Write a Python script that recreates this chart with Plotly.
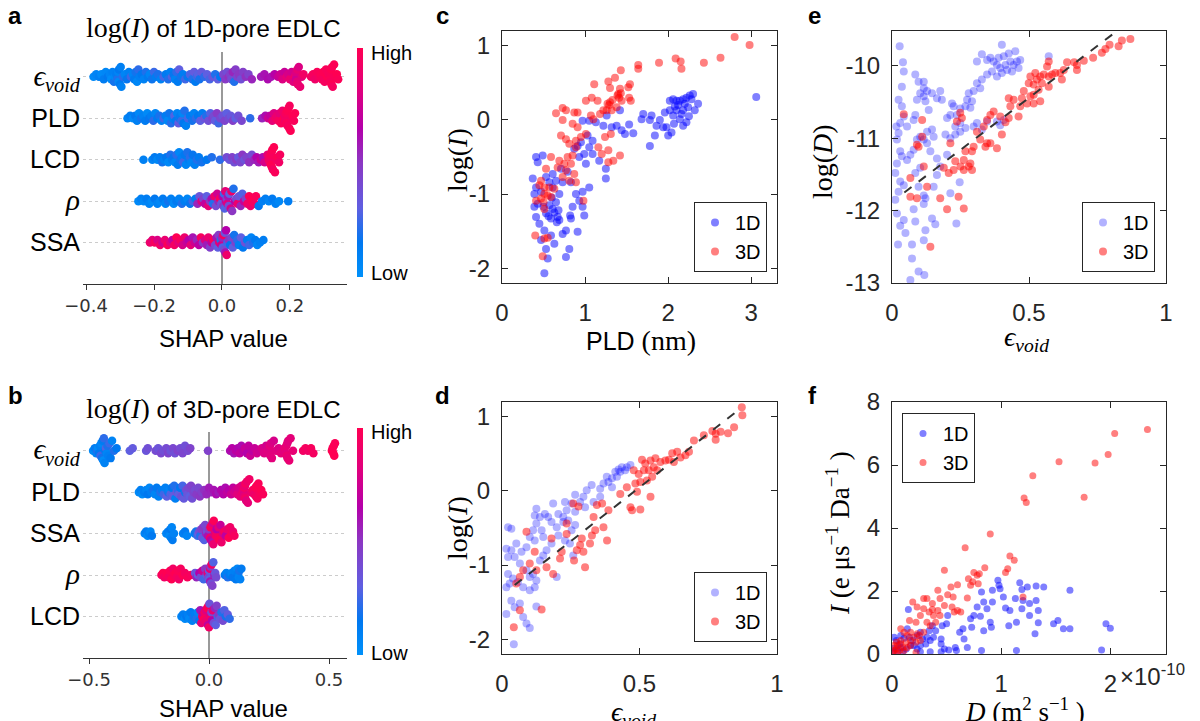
import numpy as np
import plotly.graph_objects as go

SANS = "Liberation Sans"
SERIF = "Liberation Serif"
W, H = 1200, 721

# ---------------- SHAP beeswarm data (panel a: 1D-pore) ----------------
A_EPS_SHAP = [-0.378,-0.370,-0.362,-0.355,-0.348,-0.342,-0.336,-0.330,-0.326,-0.322,-0.318,-0.315,-0.311,-0.308,-0.305,-0.304,-0.303,-0.300,-0.298,-0.296,-0.292,-0.286,-0.280,-0.274,-0.268,-0.262,-0.258,-0.254,-0.250,-0.246,-0.242,-0.236,-0.230,-0.224,-0.218,-0.212,-0.206,-0.200,-0.194,-0.188,-0.180,-0.172,-0.165,-0.158,-0.152,-0.147,-0.142,-0.138,-0.134,-0.130,-0.126,-0.121,-0.115,-0.108,-0.101,-0.094,-0.087,-0.082,-0.078,-0.074,-0.070,-0.066,-0.060,-0.052,-0.044,-0.036,-0.028,-0.020,-0.012,-0.005,0.004,0.010,0.015,0.020,0.024,0.028,0.032,0.036,0.040,0.045,0.050,0.056,0.062,0.070,0.078,0.088,0.115,0.125,0.135,0.145,0.155,0.165,0.172,0.178,0.184,0.190,0.195,0.200,0.205,0.210,0.214,0.217,0.218,0.219,0.221,0.222,0.223,0.226,0.230,0.235,0.240,0.262,0.268,0.274,0.280,0.285,0.290,0.294,0.298,0.302,0.306,0.310,0.314,0.318,0.318,0.320,0.322,0.322,0.324,0.326,0.330,0.334,0.338,0.342]
A_EPS_FEAT = [.05,.08,.10,.04,.12,.06,.15,.08,.03,.10,.18,.06,.12,.20,.07,.05,.15,.14,.10,.09,.22,.07,.16,.10,.25,.08,.13,.18,.06,.22,.11,.15,.09,.20,.13,.07,.17,.24,.12,.19,.09,.26,.14,.20,.11,.28,.16,.09,.22,.13,.30,.18,.12,.25,.16,.27,.20,.32,.14,.24,.29,.18,.33,.22,.30,.26,.35,.20,.31,.15,.42,.48,.38,.52,.45,.40,.55,.20,.47,.43,.50,.38,.46,.52,.44,.55,.58,.60,.62,.60,.66,.72,.75,.80,.72,.85,.78,.88,.76,.82,.90,.82,.74,.80,.84,.86,.88,.80,.88,.84,.92,.93,.95,.91,.97,.94,.98,.96,.99,.95,.97,1.0,.96,.98,.97,.96,1.0,.99,.98,.95,.99,.97,1.0,.98]

A_PLD_SHAP = [-0.278,-0.270,-0.262,-0.255,-0.250,-0.244,-0.238,-0.232,-0.226,-0.220,-0.214,-0.208,-0.202,-0.196,-0.190,-0.184,-0.178,-0.172,-0.166,-0.160,-0.155,-0.150,-0.145,-0.140,-0.136,-0.132,-0.128,-0.125,-0.122,-0.119,-0.116,-0.113,-0.110,-0.106,-0.100,-0.094,-0.088,-0.082,-0.076,-0.070,-0.064,-0.058,-0.052,-0.046,-0.040,-0.034,-0.028,-0.024,-0.020,-0.015,-0.010,-0.005,0.002,0.008,0.014,0.020,0.026,0.032,0.040,0.048,0.058,0.083,0.118,0.128,0.136,0.142,0.148,0.153,0.158,0.162,0.166,0.170,0.174,0.178,0.182,0.185,0.186,0.188,0.190,0.192,0.193,0.196,0.198,0.199,0.202,0.205,0.208,0.212,0.215]
A_PLD_FEAT = [.08,.12,.05,.15,.10,.06,.18,.09,.13,.04,.16,.11,.22,.07,.14,.19,.09,.25,.12,.06,.17,.21,.10,.28,.14,.08,.32,.18,.12,.24,.06,.15,.20,.10,.26,.14,.18,.09,.22,.15,.30,.12,.35,.20,.38,.28,.45,.40,.32,.48,.25,.42,.36,.44,.30,.40,.34,.46,.30,.38,.42,.22,.55,.62,.75,.70,.85,.80,.92,.88,.95,.84,.97,.90,1.0,.91,.93,.96,.98,.99,.95,1.0,.97,.96,.99,.94,1.0,.97,.99]

A_LCD_SHAP = [-0.231,-0.205,-0.198,-0.190,-0.183,-0.176,-0.170,-0.164,-0.158,-0.152,-0.147,-0.142,-0.138,-0.134,-0.130,-0.126,-0.122,-0.118,-0.114,-0.110,-0.106,-0.102,-0.098,-0.094,-0.090,-0.086,-0.080,-0.074,-0.068,-0.060,-0.045,-0.030,-0.006,0.014,0.022,0.030,0.036,0.042,0.048,0.054,0.060,0.066,0.072,0.080,0.088,0.095,0.102,0.108,0.114,0.120,0.126,0.134,0.138,0.139,0.141,0.143,0.144,0.146,0.147,0.148,0.150,0.153,0.156,0.160,0.164,0.168,0.171]
A_LCD_FEAT = [.10,.08,.14,.06,.12,.18,.09,.15,.05,.20,.11,.16,.08,.22,.13,.06,.18,.10,.25,.14,.08,.19,.12,.22,.07,.16,.10,.20,.13,.18,.15,.20,.22,.40,.35,.45,.38,.48,.33,.42,.50,.36,.44,.52,.40,.55,.65,.58,.72,.62,.78,.85,.95,.93,.92,.97,1.0,.96,.99,.98,.94,1.0,.97,.95,.99,.93,.96]

A_RHO_SHAP = [-0.246,-0.238,-0.230,-0.222,-0.214,-0.206,-0.198,-0.190,-0.182,-0.174,-0.166,-0.158,-0.150,-0.142,-0.134,-0.126,-0.118,-0.110,-0.102,-0.094,-0.086,-0.078,-0.072,-0.066,-0.060,-0.055,-0.050,-0.045,-0.040,-0.035,-0.030,-0.026,-0.022,-0.018,-0.014,-0.010,-0.006,-0.002,0.002,0.004,0.006,0.008,0.010,0.012,0.014,0.016,0.018,0.020,0.022,0.026,0.028,0.030,0.034,0.038,0.042,0.046,0.050,0.055,0.060,0.065,0.070,0.075,0.080,0.084,0.088,0.092,0.096,0.100,0.108,0.118,0.128,0.138,0.148,0.158,0.168,0.195]
A_RHO_FEAT = [.05,.10,.06,.12,.08,.04,.15,.09,.06,.13,.08,.18,.10,.05,.14,.09,.20,.12,.07,.16,.25,.12,.55,.35,.80,.45,.70,.30,.85,.50,.62,.20,.90,.40,.75,.55,.95,.35,.68,.50,.25,.28,.85,.72,.45,.82,.60,.38,.30,.78,.90,.50,.20,.65,.40,.88,.35,.55,.28,.72,.45,.92,.98,.90,.96,1.0,.94,.97,.15,.10,.12,.08,.14,.10,.06,.12]

A_SSA_SHAP = [-0.212,-0.205,-0.198,-0.190,-0.182,-0.175,-0.168,-0.160,-0.152,-0.146,-0.140,-0.134,-0.128,-0.122,-0.116,-0.110,-0.104,-0.098,-0.092,-0.086,-0.080,-0.074,-0.068,-0.062,-0.056,-0.050,-0.045,-0.040,-0.035,-0.030,-0.025,-0.020,-0.016,-0.012,-0.010,-0.008,-0.004,-0.002,0.000,0.002,0.004,0.006,0.008,0.010,0.012,0.014,0.016,0.020,0.024,0.028,0.032,0.036,0.040,0.045,0.050,0.056,0.062,0.068,0.074,0.080,0.086,0.092,0.098,0.104,0.112,0.122]
A_SSA_FEAT = [.90,.85,.95,.80,.92,.75,.88,.97,.82,.70,.93,1.0,.85,.96,.78,.90,.72,.65,.85,.60,.75,.55,.68,.95,.50,.80,.58,.88,.45,.70,.98,.40,.60,.30,.48,.85,.20,.75,.55,.28,.95,.40,.35,.60,.65,.90,.25,.50,.15,.42,.30,.18,.45,.22,.10,.30,.15,.38,.12,.25,.08,.20,.14,.06,.10,.12]

# ---------------- SHAP beeswarm data (panel b: 3D-pore) ----------------
B_EPS_SHAP = [-0.483,-0.476,-0.470,-0.466,-0.462,-0.458,-0.455,-0.452,-0.449,-0.446,-0.443,-0.440,-0.438,-0.435,-0.432,-0.429,-0.426,-0.423,-0.420,-0.415,-0.410,-0.404,-0.396,-0.385,-0.330,-0.318,-0.262,-0.255,-0.222,-0.212,-0.200,-0.190,-0.178,-0.170,-0.160,-0.150,-0.142,-0.130,-0.120,-0.110,-0.100,-0.088,-0.078,-0.004,0.088,0.096,0.104,0.112,0.120,0.128,0.135,0.142,0.150,0.158,0.165,0.172,0.180,0.190,0.200,0.210,0.220,0.230,0.238,0.245,0.250,0.252,0.254,0.256,0.258,0.262,0.270,0.280,0.290,0.300,0.310,0.316,0.320,0.322,0.324,0.326,0.327,0.330,0.334,0.340,0.350,0.392,0.402,0.412,0.425,0.435,0.512,0.515,0.518,0.520,0.522,0.525]
B_EPS_FEAT = [.05,.12,.08,.20,.04,.15,.10,.25,.06,.18,.12,.03,.22,.09,.16,.28,.07,.19,.11,.24,.14,.08,.20,.15,.30,.32,.35,.38,.40,.36,.42,.38,.40,.44,.36,.42,.38,.45,.40,.43,.38,.41,.44,.45,.62,.66,.60,.68,.64,.70,.62,.67,.72,.65,.70,.74,.68,.72,.76,.74,.78,.80,.76,.82,.79,.81,.84,.82,.80,.83,.78,.82,.80,.84,.82,.86,.83,.86,.88,.84,.85,.82,.87,.84,.86,.93,.95,.92,.96,.94,1.0,.98,1.0,.99,1.0,.98]

B_PLD_SHAP = [-0.292,-0.285,-0.278,-0.270,-0.262,-0.255,-0.248,-0.240,-0.232,-0.225,-0.218,-0.210,-0.202,-0.195,-0.188,-0.182,-0.176,-0.170,-0.165,-0.160,-0.155,-0.150,-0.145,-0.140,-0.135,-0.130,-0.125,-0.120,-0.115,-0.110,-0.105,-0.100,-0.095,-0.090,-0.085,-0.080,-0.075,-0.070,-0.064,-0.058,-0.052,-0.045,-0.038,-0.030,-0.020,-0.010,0.000,0.010,0.020,0.030,0.040,0.050,0.060,0.068,0.076,0.084,0.092,0.100,0.106,0.112,0.118,0.124,0.130,0.136,0.140,0.144,0.146,0.147,0.148,0.150,0.151,0.152,0.155,0.158,0.162,0.168,0.175,0.182,0.188,0.193,0.196,0.199,0.202,0.206,0.212,0.218,0.225]
B_PLD_FEAT = [.05,.10,.04,.12,.08,.15,.06,.11,.18,.07,.14,.09,.20,.12,.25,.10,.30,.18,.08,.28,.15,.32,.20,.10,.35,.22,.30,.15,.38,.26,.33,.18,.40,.35,.42,.30,.45,.38,.44,.40,.48,.42,.50,.46,.52,.55,.58,.56,.60,.62,.58,.64,.66,.62,.70,.66,.74,.70,.78,.75,.82,.78,.85,.80,.88,.84,.80,.92,.87,.86,.93,.95,.82,.90,.85,.92,.88,.95,.90,.98,.93,1.0,.95,.98,.96,1.0,.97]

B_SSA_SHAP = [-0.268,-0.262,-0.256,-0.250,-0.244,-0.238,-0.178,-0.170,-0.164,-0.160,-0.158,-0.155,-0.152,-0.146,-0.108,-0.100,-0.092,-0.060,-0.054,-0.048,-0.044,-0.040,-0.036,-0.032,-0.028,-0.024,-0.020,-0.016,-0.012,-0.008,-0.004,0.000,0.004,0.006,0.008,0.012,0.014,0.016,0.018,0.020,0.024,0.026,0.028,0.032,0.036,0.040,0.044,0.048,0.052,0.058,0.064,0.070,0.076,0.082,0.088,0.094,0.100,0.106]
B_SSA_FEAT = [.08,.12,.05,.10,.06,.14,.08,.12,.05,.15,.10,.07,.13,.09,.10,.14,.08,.12,.18,.25,.30,.40,.20,.45,.35,.50,.28,.42,.55,.38,.60,.48,.90,.97,.70,.95,.60,.80,.88,.98,.75,.85,.92,.65,.96,.85,1.0,.72,.90,.80,.95,.68,.88,1.0,.92,.97,.90,.95]

B_RHO_SHAP = [-0.198,-0.192,-0.186,-0.180,-0.174,-0.168,-0.162,-0.156,-0.150,-0.145,-0.140,-0.135,-0.130,-0.125,-0.118,-0.110,-0.100,-0.090,-0.075,-0.058,-0.052,-0.046,-0.040,-0.034,-0.028,-0.022,-0.016,-0.010,-0.006,-0.002,0.000,0.002,0.004,0.005,0.006,0.008,0.011,0.014,0.018,0.022,0.026,0.030,0.066,0.072,0.078,0.086,0.094,0.100,0.106,0.112,0.118,0.120,0.122,0.124,0.126,0.130,0.135]
B_RHO_FEAT = [.95,1.0,.92,.97,1.0,.94,.98,1.0,.93,.97,1.0,.95,.98,.92,.96,1.0,.94,.97,.95,.35,.55,.30,.65,.40,.75,.25,.50,.35,.85,.42,.32,.30,.88,.60,.48,.38,.95,.45,.28,.55,.35,.40,.15,.10,.20,.12,.08,.16,.10,.14,.06,.15,.12,.08,.18,.09,.13]

B_LCD_SHAP = [-0.115,-0.108,-0.100,-0.094,-0.088,-0.082,-0.076,-0.070,-0.064,-0.058,-0.052,-0.046,-0.040,-0.036,-0.032,-0.028,-0.024,-0.020,-0.018,-0.016,-0.012,-0.010,-0.008,-0.004,-0.002,0.000,0.002,0.004,0.006,0.008,0.010,0.012,0.016,0.020,0.024,0.028,0.032,0.036,0.040,0.046,0.052,0.058,0.064,0.070,0.078,0.086]
B_LCD_FEAT = [.08,.12,.05,.15,.10,.06,.14,.09,.18,.12,.20,.08,.15,.60,.85,.95,.75,1.0,.93,.90,.80,.88,.98,.70,.97,.92,.35,.85,.78,.95,.42,.65,.88,.40,.55,.30,.45,.25,.50,.35,.20,.40,.28,.18,.32,.22]

A_ROWS = [("eps", A_EPS_SHAP, A_EPS_FEAT), ("PLD", A_PLD_SHAP, A_PLD_FEAT),
          ("LCD", A_LCD_SHAP, A_LCD_FEAT), ("rho", A_RHO_SHAP, A_RHO_FEAT),
          ("SSA", A_SSA_SHAP, A_SSA_FEAT)]
B_ROWS = [("eps", B_EPS_SHAP, B_EPS_FEAT), ("PLD", B_PLD_SHAP, B_PLD_FEAT),
          ("SSA", B_SSA_SHAP, B_SSA_FEAT), ("rho", B_RHO_SHAP, B_RHO_FEAT),
          ("LCD", B_LCD_SHAP, B_LCD_FEAT)]

# ---------------- panel c: log(I) vs PLD (nm) ----------------
C1_X = [3.06,2.30,2.26,2.22,2.18,2.14,2.10,2.06,2.02,2.36,2.32,2.24,2.18,2.10,2.02,1.96,2.06,2.14,2.22,2.18,2.07,1.98,2.04,2.00,1.94,1.86,1.80,1.70,1.68,1.78,1.84,1.78,1.90,1.58,1.53,1.48,1.44,1.32,1.38,1.42,1.22,1.13,1.05,0.97,1.03,1.09,1.05,0.99,0.93,1.01,1.09,1.17,1.25,1.25,1.05,0.97,0.93,0.97,0.99,0.91,0.82,0.81,0.77,0.73,0.77,0.83,0.85,0.89,0.83,0.79,0.71,0.65,0.61,0.69,0.65,0.61,0.67,0.69,0.59,0.53,0.50,0.43,0.39,0.41,0.45,0.51,0.47,0.53,0.55,0.51,0.63,0.59,0.37,0.41,0.43,0.49,0.53,0.57,0.61,0.73,1.26,0.91,0.87,0.95,0.41,0.39,0.47,0.57,0.63,0.66,0.60,0.56,0.68,2.12,2.20,2.28,2.08,2.16,2.25]
C1_Y = [0.31,0.35,0.33,0.30,0.28,0.26,0.26,0.28,0.26,0.22,0.13,0.17,0.13,0.13,0.13,0.10,0.06,0.01,-0.03,-0.08,-0.05,-0.10,-0.17,-0.21,-0.10,-0.08,0.06,0.08,0.01,0.00,-0.21,-0.35,0.00,-0.18,-0.06,-0.19,-0.14,-0.10,-0.08,0.13,-0.08,-0.03,-0.01,-0.01,-0.21,-0.28,-0.37,-0.46,-0.50,-0.59,-0.46,-0.55,-0.66,-0.79,-0.91,-0.97,-1.09,-1.17,-1.29,-1.51,-1.29,-1.74,-1.85,-1.54,-1.49,-1.33,-1.17,-1.00,-0.84,-0.70,-0.66,-0.82,-0.91,-1.00,-1.11,-1.20,-1.31,-1.35,-1.33,-1.26,-1.17,-1.13,-1.17,-1.31,-1.40,-1.49,-1.62,-1.74,-1.87,-2.07,-1.67,-1.56,-0.79,-0.50,-0.57,-0.48,-0.77,-0.84,-0.73,-0.84,0.06,-0.35,-0.39,-0.30,-0.91,-1.00,-0.97,-1.15,-1.25,-1.38,-1.05,-1.30,-1.22,0.20,0.22,0.28,0.18,0.08,0.05]
C3_X = [2.80,2.98,2.63,2.43,2.09,2.15,2.16,1.89,1.64,1.64,1.43,1.36,1.28,1.30,1.11,1.01,1.08,1.15,1.26,1.30,1.40,1.42,1.52,1.54,1.53,1.55,1.44,1.38,1.32,1.22,1.18,1.10,1.07,0.65,0.73,0.77,0.87,0.91,0.73,0.85,0.91,0.71,0.77,0.81,0.89,0.95,1.01,0.89,0.85,0.79,0.83,0.75,0.69,0.67,0.77,0.87,0.81,0.89,0.73,0.59,0.53,0.47,0.45,0.51,0.57,0.63,0.51,0.55,0.59,0.50,0.51,0.47,0.41,0.98,1.28,1.42,1.34,1.28,1.20,1.16,1.24,1.31,0.40,0.51,0.55,0.49,1.41,1.39,1.43,1.29,1.27,1.33]
C3_Y = [1.12,1.01,0.84,0.77,0.83,0.79,0.69,0.77,0.74,0.69,0.67,0.57,0.52,0.43,0.48,0.26,0.30,0.26,0.13,0.24,0.35,0.42,0.44,0.48,0.30,0.26,0.26,0.17,0.13,0.13,0.08,0.01,0.06,0.09,0.16,0.13,0.10,0.10,0.00,-0.05,-0.10,-0.21,-0.26,-0.32,-0.28,-0.23,-0.19,-0.37,-0.48,-0.50,-0.59,-0.59,-0.55,-0.64,-0.68,-0.73,-0.82,-0.84,-0.77,-0.50,-0.66,-0.82,-0.88,-0.91,-0.91,-0.93,-1.00,-1.02,-1.04,-1.11,-1.20,-1.06,-1.09,-1.09,-0.41,-0.48,-0.55,-0.57,-0.46,-0.37,-0.23,-0.19,-1.56,-1.60,-1.59,-1.84,0.30,0.33,0.36,0.20,0.22,0.27]

# ---------------- panel d: log(I) vs eps_void ----------------
D1_X = [0.467,0.454,0.436,0.424,0.448,0.430,0.412,0.418,0.400,0.381,0.387,0.369,0.357,0.326,0.308,0.296,0.284,0.302,0.266,0.253,0.235,0.223,0.241,0.253,0.247,0.259,0.229,0.205,0.199,0.205,0.186,0.168,0.180,0.156,0.138,0.119,0.125,0.144,0.113,0.101,0.119,0.089,0.071,0.052,0.034,0.022,0.016,0.022,0.034,0.046,0.065,0.089,0.101,0.113,0.125,0.119,0.101,0.077,0.058,0.040,0.022,0.028,0.016,0.034,0.046,0.065,0.077,0.089,0.101,0.016,0.043,0.138,0.150,0.162,0.180,0.199,0.125,0.223,0.150,0.266,0.333,0.357,0.400,0.229,0.266,0.125]
D1_Y = [0.35,0.32,0.32,0.29,0.28,0.26,0.26,0.19,0.17,0.19,0.12,0.10,0.03,0.08,0.01,-0.08,-0.15,-0.22,-0.05,-0.17,-0.26,-0.35,-0.40,-0.53,-0.71,-0.87,-0.67,-0.60,-0.49,-0.31,-0.17,-0.35,-0.42,-0.31,-0.35,-0.33,-0.44,-0.53,-0.53,-0.62,-0.67,-0.76,-0.82,-0.71,-0.80,-0.89,-0.78,-0.49,-0.51,-0.89,-0.98,-1.07,-1.16,-1.12,-1.21,-1.30,-1.34,-1.30,-1.23,-1.18,-1.12,-1.25,-1.30,-1.48,-1.57,-1.52,-1.70,-1.79,-1.85,-1.66,-2.07,-0.94,-0.87,-0.80,-0.71,-1.16,-1.56,-0.42,-0.62,-0.46,-0.15,-0.08,0.05,-0.15,-0.28,-0.24]
D3_X = [0.872,0.874,0.844,0.822,0.795,0.777,0.777,0.765,0.734,0.698,0.680,0.667,0.649,0.637,0.619,0.625,0.607,0.594,0.576,0.558,0.540,0.521,0.509,0.552,0.534,0.516,0.497,0.479,0.564,0.546,0.527,0.503,0.485,0.454,0.430,0.491,0.540,0.467,0.473,0.503,0.387,0.364,0.345,0.333,0.339,0.327,0.369,0.382,0.320,0.290,0.284,0.272,0.296,0.262,0.302,0.235,0.235,0.259,0.278,0.217,0.211,0.180,0.162,0.186,0.125,0.119,0.089,0.101,0.065,0.065,0.043,0.144,0.052,0.077]
D3_Y = [1.13,1.02,0.86,0.78,0.80,0.77,0.69,0.81,0.75,0.68,0.53,0.48,0.45,0.53,0.51,0.39,0.42,0.41,0.39,0.44,0.41,0.37,0.42,0.32,0.28,0.28,0.23,0.28,0.28,0.19,0.14,0.12,0.10,0.05,-0.04,-0.01,-0.08,-0.22,-0.26,-0.25,-0.26,-0.17,-0.19,-0.35,-0.53,-0.60,-0.49,-0.67,-0.71,-0.64,-0.73,-0.80,-0.82,-0.94,-1.03,-0.58,-0.44,-0.17,-0.21,-0.82,-0.91,-0.64,-1.03,-1.12,-1.07,-0.82,-0.55,-0.98,-1.16,-1.61,-1.84,-1.60,-1.25,-1.07]
FIT_D_X = [0.046, 0.866]
FIT_D_Y = [-1.27, 1.11]

# ---------------- panel e: log(D) vs eps_void ----------------
E1_X = [0.401,0.450,0.426,0.408,0.389,0.371,0.359,0.347,0.328,0.310,0.383,0.395,0.414,0.432,0.444,0.456,0.468,0.462,0.438,0.420,0.401,0.383,0.365,0.347,0.328,0.310,0.322,0.298,0.280,0.274,0.292,0.286,0.268,0.249,0.225,0.219,0.213,0.201,0.237,0.249,0.231,0.249,0.268,0.298,0.310,0.328,0.347,0.383,0.395,0.408,0.572,0.231,0.213,0.195,0.201,0.164,0.176,0.213,0.247,0.235,0.158,0.146,0.116,0.122,0.116,0.085,0.079,0.073,0.073,0.097,0.118,0.067,0.022,0.030,0.043,0.049,0.018,0.012,0.024,0.043,0.030,0.012,0.018,0.036,0.055,0.067,0.079,0.030,0.018,0.024,0.016,0.030,0.043,0.036,0.024,0.036,0.043,0.040,0.028,0.055,0.079,0.085,0.091,0.103,0.116,0.085,0.097,0.116,0.116,0.128,0.122,0.134,0.146,0.176,0.164,0.182,0.103,0.091,0.116,0.128,0.146,0.152,0.128,0.140,0.164,0.152,0.122,0.097,0.085,0.103,0.116]
E1_Y = [-9.71,-9.80,-9.83,-9.87,-9.89,-9.94,-9.89,-9.92,-9.84,-9.94,-9.99,-10.03,-9.99,-9.94,-9.99,-9.94,-9.92,-10.03,-10.08,-10.06,-10.10,-10.15,-10.08,-10.12,-10.19,-10.24,-10.31,-10.35,-10.38,-10.47,-10.49,-10.58,-10.56,-10.59,-10.56,-10.52,-10.68,-10.72,-10.68,-10.79,-10.84,-10.91,-10.86,-10.84,-10.79,-10.88,-10.77,-10.77,-10.82,-10.75,-9.87,-10.95,-11.00,-10.95,-11.23,-11.28,-11.39,-11.76,-11.61,-12.18,-12.19,-12.11,-11.91,-12.27,-12.41,-12.15,-11.98,-12.47,-12.66,-12.84,-12.89,-12.96,-12.47,-12.21,-12.13,-12.31,-12.04,-11.85,-11.74,-11.65,-11.60,-11.48,-11.35,-11.25,-11.30,-11.23,-11.16,-11.18,-11.02,-10.93,-10.84,-10.79,-10.70,-10.56,-10.47,-10.29,-10.08,-9.95,-9.73,-10.84,-10.75,-10.68,-10.47,-10.38,-10.42,-10.12,-10.22,-10.22,-10.31,-10.35,-10.49,-10.61,-10.38,-10.35,-10.45,-10.47,-10.98,-11.02,-11.02,-11.07,-10.88,-10.98,-10.91,-11.18,-11.51,-11.67,-11.83,-11.67,-11.48,-11.41,-11.79]
E3_X = [0.870,0.839,0.827,0.794,0.779,0.766,0.734,0.700,0.675,0.665,0.675,0.639,0.627,0.614,0.620,0.596,0.572,0.566,0.584,0.572,0.554,0.541,0.523,0.529,0.505,0.517,0.499,0.547,0.572,0.535,0.517,0.505,0.481,0.474,0.493,0.517,0.541,0.468,0.432,0.426,0.444,0.462,0.426,0.414,0.395,0.371,0.359,0.347,0.335,0.310,0.322,0.347,0.341,0.359,0.383,0.401,0.298,0.292,0.268,0.262,0.286,0.292,0.280,0.250,0.231,0.225,0.207,0.189,0.213,0.262,0.243,0.201,0.262,0.140,0.128,0.091,0.067,0.067,0.110,0.091,0.097,0.116,0.110,0.043,0.249,0.255,0.237,0.176]
E3_Y = [-9.63,-9.65,-9.73,-9.71,-9.77,-9.82,-9.89,-9.93,-9.99,-9.95,-10.06,-9.95,-10.06,-10.10,-10.19,-10.10,-9.94,-10.01,-10.12,-10.15,-10.12,-10.15,-10.10,-10.19,-10.15,-10.26,-10.24,-10.24,-10.29,-10.33,-10.40,-10.42,-10.35,-10.45,-10.52,-10.52,-10.49,-10.56,-10.56,-10.45,-10.47,-10.70,-10.72,-10.78,-10.70,-10.63,-10.68,-10.75,-10.84,-10.91,-11.02,-11.07,-11.12,-11.07,-11.14,-10.95,-11.12,-11.18,-11.18,-11.30,-11.35,-11.44,-11.39,-11.39,-11.32,-11.44,-11.48,-11.41,-11.07,-11.44,-11.81,-11.98,-11.97,-12.50,-11.67,-11.83,-11.81,-11.55,-10.98,-11.09,-11.12,-11.39,-10.75,-10.67,-10.65,-10.72,-10.77,-11.83]
FIT_E_X = [0.045, 0.835]
FIT_E_Y = [-11.75, -9.48]

# ---------------- panel f: I vs D (D in units of 1e-10 m^2/s) ----------------
F1_X = [1.92,1.96,2.00,1.63,1.63,1.57,1.52,1.48,1.39,1.32,1.32,1.34,1.31,1.34,1.26,1.26,1.24,1.19,1.17,1.20,1.19,1.14,1.13,1.08,1.07,1.04,1.02,0.99,0.97,0.98,0.92,0.92,0.90,0.91,0.87,0.84,0.82,0.81,0.84,0.82,0.78,0.75,0.73,0.72,0.69,0.66,0.65,0.62,0.58,0.52,0.59,1.14,0.48,0.45,0.45,0.38,0.40,0.37,0.34,0.35,0.31,0.28,0.26,0.23,0.20,0.19,0.16,0.14,0.15,0.17,0.13,0.08,0.05,0.02,0.01,0.10,0.07,0.04,0.02,0.08,0.11,0.23,0.26,0.32,0.51,0.46,0.50,0.35,0.45,0.26]
F1_Y = [0.13,0.96,0.82,2.02,0.80,0.80,1.06,0.96,2.13,2.16,1.70,1.38,0.64,0.99,1.60,1.22,2.13,2.05,2.26,1.70,1.44,1.01,1.76,1.38,0.90,1.46,1.81,2.07,2.34,2.18,2.02,1.65,1.01,0.85,1.44,1.65,1.97,1.20,0.74,0.11,1.49,1.22,0.85,1.12,0.21,0.48,0.80,0.69,0.21,0.13,0.11,0.11,0.16,0.32,0.48,0.53,0.74,0.90,0.74,0.43,0.32,0.48,0.27,0.16,0.27,0.43,0.53,0.80,1.41,0.27,0.16,0.21,0.11,0.18,0.07,0.07,0.32,0.43,0.53,0.59,0.50,0.59,0.69,0.53,1.22,0.90,0.96,0.07,0.07,0.07]
F3_X = [2.34,2.04,1.98,1.86,1.53,1.76,1.29,1.21,1.23,1.08,1.06,1.12,1.04,0.90,0.67,0.85,0.75,0.78,0.80,0.74,0.79,0.70,0.72,0.69,0.48,0.60,0.54,0.56,0.51,0.42,0.44,0.48,0.37,0.32,0.29,0.19,0.23,0.29,0.34,0.37,0.26,0.22,0.16,0.38,0.42,0.44,0.55,0.60,0.63,0.57,0.40,0.35,0.32,0.29,0.23,0.17,0.11,0.08,0.14,0.20,0.25,0.26,0.22,0.17,0.13,0.08,0.05,0.04,0.02,0.07,0.10,0.11,0.14,0.17,0.22,0.01,0.05,0.08,0.04,0.02,1.20]
F3_Y = [7.13,7.00,6.33,6.06,6.10,4.98,5.66,4.95,4.81,3.11,2.71,2.98,2.59,3.81,3.37,2.74,2.59,2.50,2.55,2.29,2.23,2.39,2.18,1.78,2.66,2.20,2.13,1.81,1.88,2.02,1.76,1.54,1.60,1.76,1.76,1.65,1.49,1.44,1.33,1.41,1.22,1.01,1.06,1.22,1.38,1.22,1.49,1.38,1.33,1.33,1.01,0.90,1.01,0.69,0.64,0.69,0.69,0.80,0.59,0.53,0.59,0.43,0.37,0.43,0.37,0.43,0.27,0.16,0.11,0.11,0.21,0.11,0.21,0.27,0.05,0.05,0.03,0.32,0.37,0.27,1.81]

# ---------------- text ----------------
EPS = "<i>ϵ<sub>void</sub></i>"
ROW_LABELS = {"eps": "<span style='font-family:Liberation Serif;font-size:29px'>" + EPS + "</span>",
              "PLD": "PLD", "LCD": "LCD", "SSA": "SSA",
              "rho": "<span style='font-family:Liberation Serif;font-size:29px'><i>ρ</i></span>"}
A_TICKS = [-0.4, -0.2, 0.0, 0.2]
B_TICKS = [-0.5, 0.0, 0.5]
C_XTICKS, C_XTEXT = [0, 1, 2, 3], ["0", "1", "2", "3"]
LOGI_TICKS, LOGI_TEXT = [-2, -1, 0, 1], ["-2", "-1", "0", "1"]
EV_TICKS, EV_TEXT = [0, 0.5, 1], ["0", "0.5", "1"]
E_YTICKS, E_YTEXT = [-13, -12, -11, -10], ["-13", "-12", "-11", "-10"]
F_XTICKS, F_XTEXT = [0, 1, 2], ["0", "1", "2"]
F_YTICKS, F_YTEXT = [0, 2, 4, 6, 8], ["0", "2", "4", "6", "8"]

SHAP_CS = [[0.0, "rgb(0,145,250)"], [0.15, "rgb(0,120,240)"], [0.3, "rgb(95,95,225)"],
           [0.5, "rgb(140,55,195)"], [0.65, "rgb(180,0,170)"], [0.82, "rgb(225,0,125)"],
           [1.0, "rgb(255,0,82)"]]


def px_x(p):
    return p / W


def px_y(p):
    return 1 - p / H


def swarm(vals, bin_w):
    v = np.asarray(vals, float)
    nb = max(1, int(round((v.max() - v.min()) / bin_w)))
    q = np.round(nb * (v - v.min()) / (v.max() - v.min() + 1e-8))
    order = np.argsort(q, kind="stable")
    ys = np.zeros(len(v))
    layer, last = 0, None
    for i in order:
        if q[i] != last:
            layer = 0
        ys[i] = np.ceil(layer / 2) * ((layer % 2) * 2 - 1)
        layer += 1
        last = q[i]
    ys *= 0.9 * (0.4 / np.max(ys + 1))
    return ys


fig = go.Figure()

# SHAP panels
for rows, xa, ya, cax, bw in [(A_ROWS, "x", "y", "coloraxis", 0.024),
                              (B_ROWS, "x2", "y2", "coloraxis2", 0.034)]:
    n = len(rows)
    for k, (name, sv, fv) in enumerate(rows):
        pos = n - 1 - k
        off = swarm(sv, bw)
        fig.add_trace(go.Scatter(
            x=sv, y=pos + off, mode="markers", xaxis=xa, yaxis=ya, showlegend=False,
            marker=dict(size=8.5, color=fv, coloraxis=cax, line=dict(width=0)),
            hoverinfo="skip"))

# scatter panels
BLUE, RED = "rgb(0,0,255)", "rgb(255,0,0)"
specs = [
    (C1_X, C1_Y, C3_X, C3_Y, "x3", "y3", "legend", 0.5, 0.5, 8),
    (D1_X, D1_Y, D3_X, D3_Y, "x4", "y4", "legend2", 0.3, 0.5, 8),
    (E1_X, E1_Y, E3_X, E3_Y, "x5", "y5", "legend3", 0.3, 0.5, 8),
    (F1_X, F1_Y, F3_X, F3_Y, "x6", "y6", "legend4", 0.5, 0.5, 7),
]
for x1, y1, x3, y3, xa, ya, lg, a1, a3, ms in specs:
    fig.add_trace(go.Scatter(x=x1, y=y1, mode="markers", name="1D", xaxis=xa, yaxis=ya, legend=lg,
                             marker=dict(size=ms, color=BLUE, opacity=a1, line=dict(width=0))))
    fig.add_trace(go.Scatter(x=x3, y=y3, mode="markers", name="3D", xaxis=xa, yaxis=ya, legend=lg,
                             marker=dict(size=ms, color=RED, opacity=a3, line=dict(width=0))))

for fx, fy, xa, ya in [(FIT_D_X, FIT_D_Y, "x4", "y4"), (FIT_E_X, FIT_E_Y, "x5", "y5")]:
    fig.add_trace(go.Scatter(x=fx, y=fy, mode="lines", xaxis=xa, yaxis=ya, showlegend=False,
                             line=dict(color="#333333", width=2, dash="dash"), hoverinfo="skip"))


# ---------------- axes ----------------
def shap_x(dom, rng, ticks, anchor):
    return dict(domain=dom, range=rng, tickvals=ticks, tickformat=".1f", ticks="outside", ticklen=5,
                tickcolor="#333333", showline=True, linecolor="#333333", linewidth=1,
                zeroline=True, zerolinecolor="#999999", zerolinewidth=2, showgrid=False,
                automargin=False,
                tickfont=dict(family="DejaVu Sans", size=18, color="#333333"), anchor=anchor)


def shap_y(dom, rng, labels, anchor):
    return dict(domain=dom, range=rng, tickvals=list(range(len(labels))),
                ticktext=[ROW_LABELS[l] for l in labels[::-1]], ticks="", showline=False,
                zeroline=False, showgrid=True, gridcolor="#cccccc", griddash="dot", gridwidth=1,
                automargin=False, ticklabelstandoff=2,
                tickfont=dict(family=SANS, size=25, color="black"), anchor=anchor)


def box_ax(dom, rng, tv, tt, anchor, standoff):
    return dict(domain=dom, range=rng, tickvals=tv, ticktext=tt, ticks="inside", ticklen=6,
                tickcolor="#262626", showline=True, linecolor="#262626", linewidth=1,
                mirror="ticks", showgrid=False, zeroline=False, anchor=anchor,
                ticklabelstandoff=standoff, automargin=False,
                tickfont=dict(family=SANS, size=24, color="#262626"))


XD_AB = [px_x(83), px_x(347)]
XD_CD = [px_x(502), px_x(777)]
XD_EF = [px_x(892), px_x(1166)]
YD_TOP = [px_y(283), px_y(31)]
YD_BOT = [px_y(654), px_y(402)]

fig.update_layout(
    width=W, height=H, margin=dict(l=0, r=0, t=0, b=0, autoexpand=False), autosize=False,
    paper_bgcolor="white", plot_bgcolor="white",
    font=dict(family=SANS, color="black"),
    xaxis=shap_x(XD_AB, [-0.409, 0.368], A_TICKS, "y"),
    yaxis=shap_y([px_y(284), px_y(52)], [-1, 4.6], [r[0] for r in A_ROWS], "x"),
    xaxis2=shap_x(XD_AB, [-0.525, 0.575], B_TICKS, "y2"),
    yaxis2=shap_y([px_y(658), px_y(432)], [-1, 4.45], [r[0] for r in B_ROWS], "x2"),
    xaxis3=box_ax(XD_CD, [0, 3.31], C_XTICKS, C_XTEXT, "y3", 8),
    yaxis3=box_ax(YD_TOP, [-2.2, 1.2], LOGI_TICKS, LOGI_TEXT, "x3", 6),
    xaxis4=box_ax(XD_CD, [0, 1], EV_TICKS, EV_TEXT, "y4", 8),
    yaxis4=box_ax(YD_BOT, [-2.2, 1.2], LOGI_TICKS, LOGI_TEXT, "x4", 6),
    xaxis5=box_ax(XD_EF, [0, 1], EV_TICKS, EV_TEXT, "y5", 8),
    yaxis5=box_ax(YD_TOP, [-13, -9.52], E_YTICKS, E_YTEXT, "x5", 6),
    xaxis6=box_ax(XD_EF, [0, 2.51], F_XTICKS, F_XTEXT, "y6", 8),
    yaxis6=box_ax(YD_BOT, [0, 8], F_YTICKS, F_YTEXT, "x6", 6),
    coloraxis=dict(colorscale=SHAP_CS, cmin=0, cmax=1, colorbar=dict(
        x=px_x(357), xanchor="left", y=px_y(162.5), yanchor="middle", len=229 / H,
        thickness=6, showticklabels=False, ticks="", outlinewidth=0, xpad=0, ypad=0)),
    coloraxis2=dict(colorscale=SHAP_CS, cmin=0, cmax=1, colorbar=dict(
        x=px_x(357), xanchor="left", y=px_y(541.5), yanchor="middle", len=227 / H,
        thickness=6, showticklabels=False, ticks="", outlinewidth=0, xpad=0, ypad=0)),
)

LEG = dict(bordercolor="#262626", borderwidth=1, bgcolor="white",
           font=dict(family=SANS, size=20, color="black"), itemwidth=30, tracegroupgap=0)
fig.update_layout(
    legend=dict(x=px_x(767), xanchor="right", y=px_y(272), yanchor="bottom", **LEG),
    legend2=dict(x=px_x(767), xanchor="right", y=px_y(642), yanchor="bottom", **LEG),
    legend3=dict(x=px_x(1155), xanchor="right", y=px_y(272), yanchor="bottom", **LEG),
    legend4=dict(x=px_x(902), xanchor="left", y=px_y(413), yanchor="top", **LEG),
)

# ---------------- annotations ----------------
anns = []


def ann(text, x, y, size, family=SANS, angle=0, color="black", xanchor="center"):
    anns.append(dict(text=text, x=px_x(x), y=px_y(y), xref="paper", yref="paper",
                     showarrow=False, textangle=angle, xanchor=xanchor, yanchor="middle",
                     font=dict(family=family, size=size, color=color)))


SER = "<span style='font-family:Liberation Serif;font-size:28px'>"
ann("<b>a</b>", 15, 16, 24)
ann("<b>b</b>", 15, 395, 24)
ann("<b>c</b>", 442, 16, 24)
ann("<b>d</b>", 442, 395, 24)
ann("<b>e</b>", 814, 16, 24)
ann("<b>f</b>", 812, 395, 24)
ann(SER + "log(<i>I</i>)</span> of 1D-pore EDLC", 213, 28, 24)
ann(SER + "log(<i>I</i>)</span> of 3D-pore EDLC", 213, 408, 24)
ann("SHAP value", 223, 338, 24)
ann("SHAP value", 223, 708, 24)
ann("High", 369, 53, 20, xanchor="left")
ann("Low", 369, 273, 20, xanchor="left")
ann("High", 369, 432, 20, xanchor="left")
ann("Low", 369, 653, 20, xanchor="left")
ann("PLD " + SER + "(nm)</span>", 641, 340, 25)
ann("log(<i>I</i>)", 457, 160, 28, family=SERIF, angle=-90)
ann("log(<i>I</i>)", 457, 528, 28, family=SERIF, angle=-90)
ann(EPS, 633, 713, 28, family=SERIF)
ann("log(<i>D</i>)", 822, 162, 28, family=SERIF, angle=-90)
ann(EPS, 1026, 338, 28, family=SERIF)
ann("<i>D</i> (m<sup>2</sup> s<sup>−1</sup> )", 1025, 710, 27, family=SERIF)
ann("<i>I</i> (e μs<sup>−1</sup> Da<sup>−1</sup> )", 838, 533, 27, family=SERIF, angle=-90)
ann("×10<sup>-10</sup>", 1118, 675, 24, xanchor="left", color="#262626")
fig.update_layout(annotations=anns)

fig.write_html("out.html", config={"displayModeBar": False},
               post_script="document.body.style.margin='0';document.body.style.overflow='hidden';")
